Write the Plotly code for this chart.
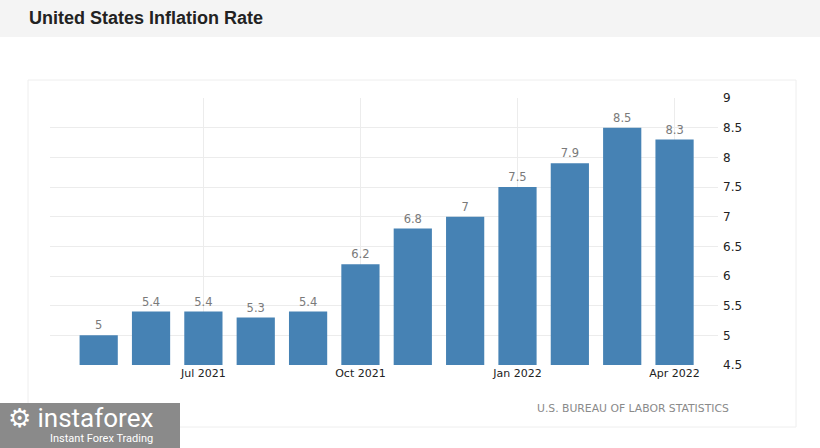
import plotly.graph_objects as go

months = ["May 2021", "Jun 2021", "Jul 2021", "Aug 2021", "Sep 2021", "Oct 2021",
          "Nov 2021", "Dec 2021", "Jan 2022", "Feb 2022", "Mar 2022", "Apr 2022"]
rates = [5.0, 5.4, 5.4, 5.3, 5.4, 6.2, 6.8, 7.0, 7.5, 7.9, 8.5, 8.3]
rate_labels = ["5", "5.4", "5.4", "5.3", "5.4", "6.2", "6.8", "7", "7.5", "7.9", "8.5", "8.3"]
x_tick_vals = ["Jul 2021", "Oct 2021", "Jan 2022", "Apr 2022"]
y_tick_vals = [4.5, 5, 5.5, 6, 6.5, 7, 7.5, 8, 8.5, 9]
y_tick_text = ["4.5", "5", "5.5", "6", "6.5", "7", "7.5", "8", "8.5", "9"]

W, H = 820, 448
L, R, T, B = 50, 718, 98, 365


def px(x):
    return (x - L) / (R - L)


def py(y):
    return (B - y) / (B - T)


fig = go.Figure()
fig.add_trace(go.Bar(
    x=months, y=rates, text=rate_labels, textposition="outside",
    textfont=dict(family="DejaVu Sans", size=11.5, color="#7a7a7a"),
    marker=dict(color="#4682b4", line=dict(width=0)),
    cliponaxis=False, hoverinfo="x+y",
))

fig.update_layout(
    width=W, height=H,
    margin=dict(l=L, r=W - R, t=T, b=H - B),
    paper_bgcolor="white", plot_bgcolor="white",
    bargap=0.27, showlegend=False,
    xaxis=dict(type="category", range=[-0.93, 11.83], tickmode="array",
               tickvals=x_tick_vals, ticktext=x_tick_vals,
               showgrid=True, gridcolor="#ececec", gridwidth=1,
               tickfont=dict(family="DejaVu Sans", size=11, color="#222"),
               showline=False, zeroline=False, ticks=""),
    yaxis=dict(side="right", range=[4.5, 9], tickmode="array",
               tickvals=y_tick_vals, ticktext=y_tick_text,
               showgrid=True, gridcolor="#ececec", gridwidth=1,
               tickfont=dict(family="DejaVu Sans", size=12, color="#222"),
               ticklabelstandoff=4,
               showline=False, zeroline=False, ticks=""),
    shapes=[
        dict(type="rect", xref="paper", yref="paper", x0=px(0), x1=px(W), y0=py(37), y1=py(0),
             fillcolor="#f4f4f4", line=dict(width=0), layer="below"),
        dict(type="rect", xref="paper", yref="paper", x0=px(28), x1=px(796), y0=py(427), y1=py(80),
             fillcolor="rgba(0,0,0,0)", line=dict(color="#eeeeee", width=1), layer="below"),
        dict(type="rect", xref="paper", yref="paper", x0=px(0), x1=px(180), y0=py(448), y1=py(403),
             fillcolor="#8a8a8a", line=dict(width=0), layer="above"),
    ],
    annotations=[
        dict(text="<b>United States Inflation Rate</b>", xref="paper", yref="paper",
             x=px(27), y=py(18), xanchor="left", yanchor="middle", showarrow=False,
             font=dict(family="Liberation Sans", size=18, color="#222")),
        dict(text="U.S. BUREAU OF LABOR STATISTICS", xref="paper", yref="paper",
             x=px(731), y=py(408), xanchor="right", yanchor="middle", showarrow=False,
             font=dict(family="DejaVu Sans", size=10.8, color="#8a8a8a")),
        dict(text="⚙ instaforex", xref="paper", yref="paper",
             x=px(6), y=py(418), xanchor="left", yanchor="middle", showarrow=False,
             font=dict(family="Roboto", size=26, color="white")),
        dict(text="Instant Forex Trading", xref="paper", yref="paper",
             x=px(48), y=py(438), xanchor="left", yanchor="middle", showarrow=False,
             font=dict(family="Roboto", size=11, color="white")),
    ],
)

fig.write_html("out.html")
